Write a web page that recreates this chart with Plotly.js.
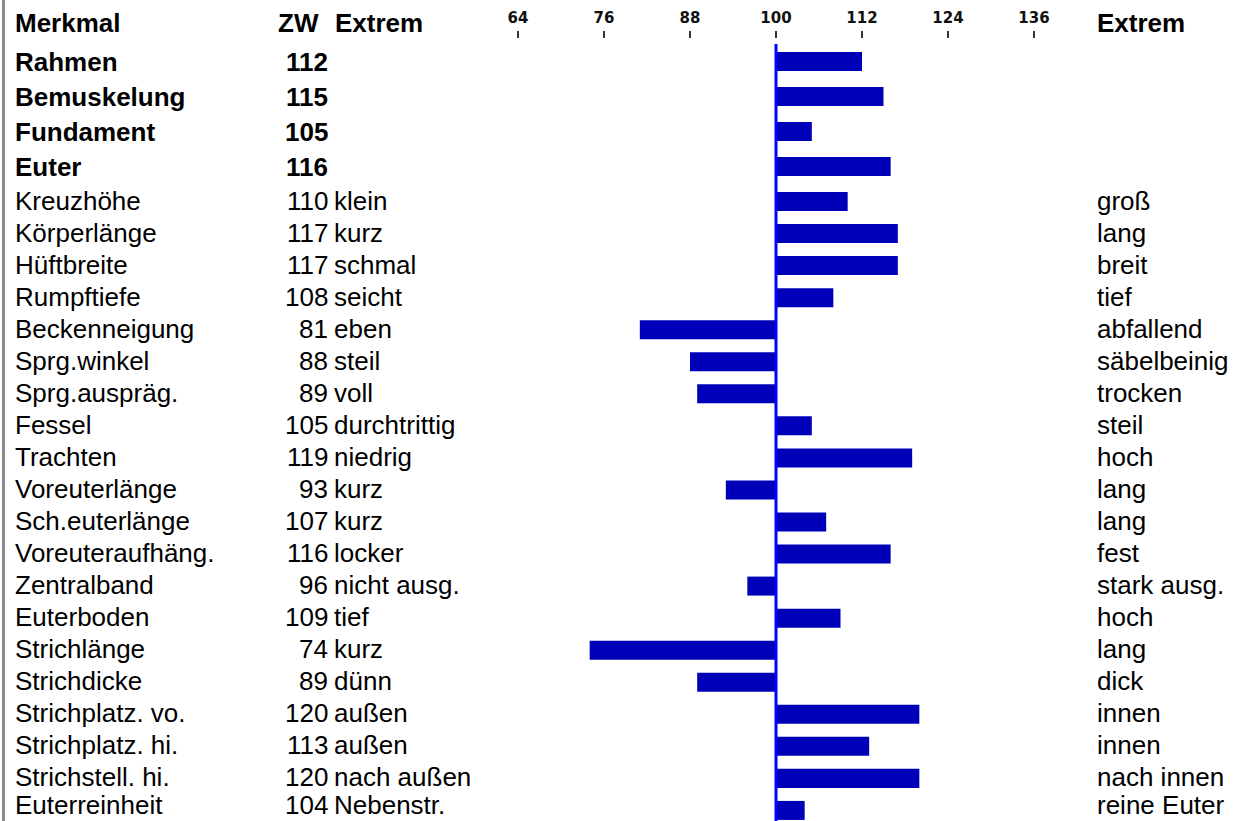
<!DOCTYPE html>
<html>
<head>
<meta charset="utf-8">
<script src="https://cdn.plot.ly/plotly-3.0.1.min.js"></script>
<style>
html,body{margin:0;padding:0;background:#fff;}
#chart{width:1240px;height:821px;}
</style>
</head>
<body>
<div id="chart"></div>
<script>
// ---- data ----
const compositeNames = ["Rahmen", "Bemuskelung", "Fundament", "Euter"];
const compositeZW = [112, 115, 105, 116];

const traitNames = ["Kreuzhöhe", "Körperlänge", "Hüftbreite", "Rumpftiefe", "Beckenneigung",
  "Sprg.winkel", "Sprg.auspräg.", "Fessel", "Trachten", "Voreuterlänge", "Sch.euterlänge",
  "Voreuteraufhäng.", "Zentralband", "Euterboden", "Strichlänge", "Strichdicke",
  "Strichplatz. vo.", "Strichplatz. hi.", "Strichstell. hi.", "Euterreinheit"];
const traitZW = [110, 117, 117, 108, 81, 88, 89, 105, 119, 93, 107, 116, 96, 109, 74, 89, 120, 113, 120, 104];
const traitLow = ["klein", "kurz", "schmal", "seicht", "eben", "steil", "voll", "durchtrittig",
  "niedrig", "kurz", "kurz", "locker", "nicht ausg.", "tief", "kurz", "dünn", "außen", "außen",
  "nach außen", "Nebenstr."];
const traitHigh = ["groß", "lang", "breit", "tief", "abfallend", "säbelbeinig", "trocken", "steil",
  "hoch", "lang", "lang", "fest", "stark ausg.", "hoch", "lang", "dick", "innen", "innen",
  "nach innen", "reine Euter"];

const tickVals = [64, 76, 88, 100, 112, 124, 136];
const headers = {merkmal: "Merkmal", zw: "ZW", extremL: "Extrem", extremR: "Extrem"};
const BASE = 100;

// ---- layout helpers ----
const W = 1240, H = 821;
const px = v => v / W;
const py = v => 1 - v / H;
const FONT = "Liberation Sans, Arial, sans-serif";
const FS = 26;
const barColor = "#0000b8";

const traces = [
  {
    type: "bar", orientation: "h",
    y: compositeNames, x: compositeZW.map(v => v - BASE), base: BASE,
    xaxis: "x", yaxis: "y2", width: 0.54,
    marker: {color: barColor, line: {width: 0}},
    hoverinfo: "skip"
  },
  {
    type: "bar", orientation: "h",
    y: traitNames, x: traitZW.map(v => v - BASE), base: BASE,
    xaxis: "x", yaxis: "y", width: 0.593,
    marker: {color: barColor, line: {width: 0}},
    hoverinfo: "skip"
  }
];

const ann = [];
function txt(text, x, xanchor, y, yref, bold, yshift) {
  ann.push({
    text: bold ? "<b>" + text + "</b>" : text,
    x: x, xref: "paper", xanchor: xanchor,
    y: y, yref: yref, yanchor: "middle", yshift: yshift || 0,
    showarrow: false, borderpad: 0, borderwidth: 0,
    font: {family: FONT, size: FS, color: "#000"}
  });
}
// header row
txt(headers.merkmal, px(15), "left", py(23), "paper", true);
txt(headers.zw, px(319), "right", py(23), "paper", true);
txt(headers.extremL, px(335), "left", py(23), "paper", true);
txt(headers.extremR, px(1097), "left", py(23), "paper", true);
// composite rows
compositeNames.forEach((n, i) => {
  txt(n, px(15), "left", n, "y2", true);
  txt(String(compositeZW[i]), px(328), "right", n, "y2", true);
});
// trait rows
traitNames.forEach((n, i) => {
  const ys = (i === traitNames.length - 1) ? 5 : 1;
  txt(n, px(15), "left", n, "y", false, ys);
  txt(String(traitZW[i]), px(328), "right", n, "y", false, ys);
  txt(traitLow[i], px(334), "left", n, "y", false, ys);
  txt(traitHigh[i], px(1097), "left", n, "y", false, ys);
});

const layout = {
  width: W, height: H,
  margin: {l: 0, r: 0, t: 0, b: 0, pad: 0},
  paper_bgcolor: "#fff", plot_bgcolor: "rgba(0,0,0,0)",
  showlegend: false,
  barmode: "overlay",
  xaxis: {
    domain: [px(518), px(1034)],
    range: [64, 136],
    side: "top", anchor: "free", position: py(38),
    tickmode: "array", tickvals: tickVals,
    ticks: "outside", ticklen: 7, tickwidth: 2, tickcolor: "#333",
    ticklabelstandoff: 2,
    tickfont: {family: "DejaVu Sans, sans-serif", size: 15, color: "#111", weight: "bold"},
    showline: false, showgrid: false, zeroline: false, fixedrange: true
  },
  yaxis2: {
    domain: [py(184), py(44)],
    type: "category", autorange: false, range: [3.5, -0.5],
    showticklabels: false, showgrid: false, zeroline: false, showline: false, ticks: "",
    fixedrange: true
  },
  yaxis: {
    domain: [0, py(185.5)],
    type: "category", autorange: false, range: [19.33, -0.5],
    showticklabels: false, showgrid: false, zeroline: false, showline: false, ticks: "",
    fixedrange: true
  },
  shapes: [
    {type: "line", xref: "x", yref: "paper", x0: BASE, x1: BASE, y0: 0, y1: py(44),
     line: {color: "#0000ff", width: 3}},
    {type: "line", xref: "paper", yref: "paper", x0: px(3.5), x1: px(3.5), y0: 0, y1: 1,
     line: {color: "#8c8c8c", width: 3}}
  ],
  annotations: ann
};

Plotly.newPlot("chart", traces, layout, {displayModeBar: false, staticPlot: true});
</script>
</body>
</html>
